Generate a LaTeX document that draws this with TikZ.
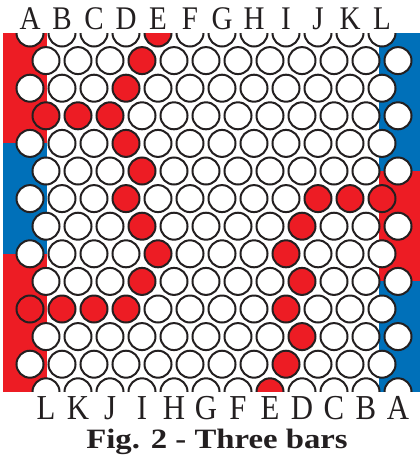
\documentclass[tikz,border=0pt]{standalone}
\usepackage{fontspec}
\setmainfont{Liberation Serif}
\definecolor{bred}{RGB}{237,28,36}
\definecolor{bblue}{RGB}{0,112,185}
\definecolor{ink}{RGB}{35,31,32}
\tikzset{
  hole/.style={circle, draw=ink, line width=2pt, minimum size=27pt, inner sep=0pt, outer sep=0pt},
  toplabel/.style={anchor=base, inner sep=0pt, text=ink, font=\fontsize{33}{33}\selectfont},
  botlabel/.style={anchor=base, inner sep=0pt, text=ink, font=\fontsize{35}{35}\selectfont},
  caption/.style={anchor=base, inner sep=0pt, text=ink, font=\bfseries\fontsize{28}{28}\selectfont}
}
\foreach \c in {0-4,1-3,2-3,3-0,3-1,3-2,4-3,5-3,6-3,6-9,6-10,6-11,7-3,7-8,8-4,8-8,9-3,9-8,10-0,10-1,10-2,10-3,10-8,11-8,12-8,13-7}{%
  \expandafter\xdef\csname redcell\c\endcsname{}}
\begin{document}
\begin{tikzpicture}[x=1pt,y=-1pt]
\useasboundingbox (0,0) rectangle (420,456);
% side strips
\fill[bred]  (3,33) rectangle (47,143.4);
\fill[bblue] (3,143.4) rectangle (47,253.8);
\fill[bred]  (3,253.8) rectangle (47,391.5);
\fill[bblue] (379,33) rectangle (420,171);
\fill[bred]  (379,171) rectangle (420,281.4);
\fill[bblue] (379,281.4) rectangle (420,391.5);
% holes
\begin{scope}
\clip (3,33) rectangle (420,391.5);
\foreach \r in {0,...,13}{
  \foreach \k in {0,...,11}{
    \pgfmathsetmacro\xx{30+16*mod(\r,2)+32*\k}
    \pgfmathsetmacro\yy{33+27.6*\r}
    \ifcsname redcell\r-\k\endcsname\def\hf{bred}\else\def\hf{white}\fi
    \node[hole, fill=\hf] (h-\r-\k) at (\xx,\yy) {};
  }
}
\end{scope}
% column letters
\foreach \L [count=\i from 0] in {A,B,C,D,E,F,G,H,I,J,K,L}{
  \node[toplabel] (t-\i) at (30+32*\i,29) {\scalebox{0.88}[1]{\L}};
}
\foreach \L [count=\i from 0] in {L,K,J,I,H,G,F,E,D,C,B,A}{
  \node[botlabel] (b-\i) at (46+32*\i,419) {\scalebox{0.88}[1]{\L}};
}
\node[caption] (cap) at (217,448) {\scalebox{1.17}[1]{Fig. 2 - Three bars}};
\end{tikzpicture}
\end{document}
